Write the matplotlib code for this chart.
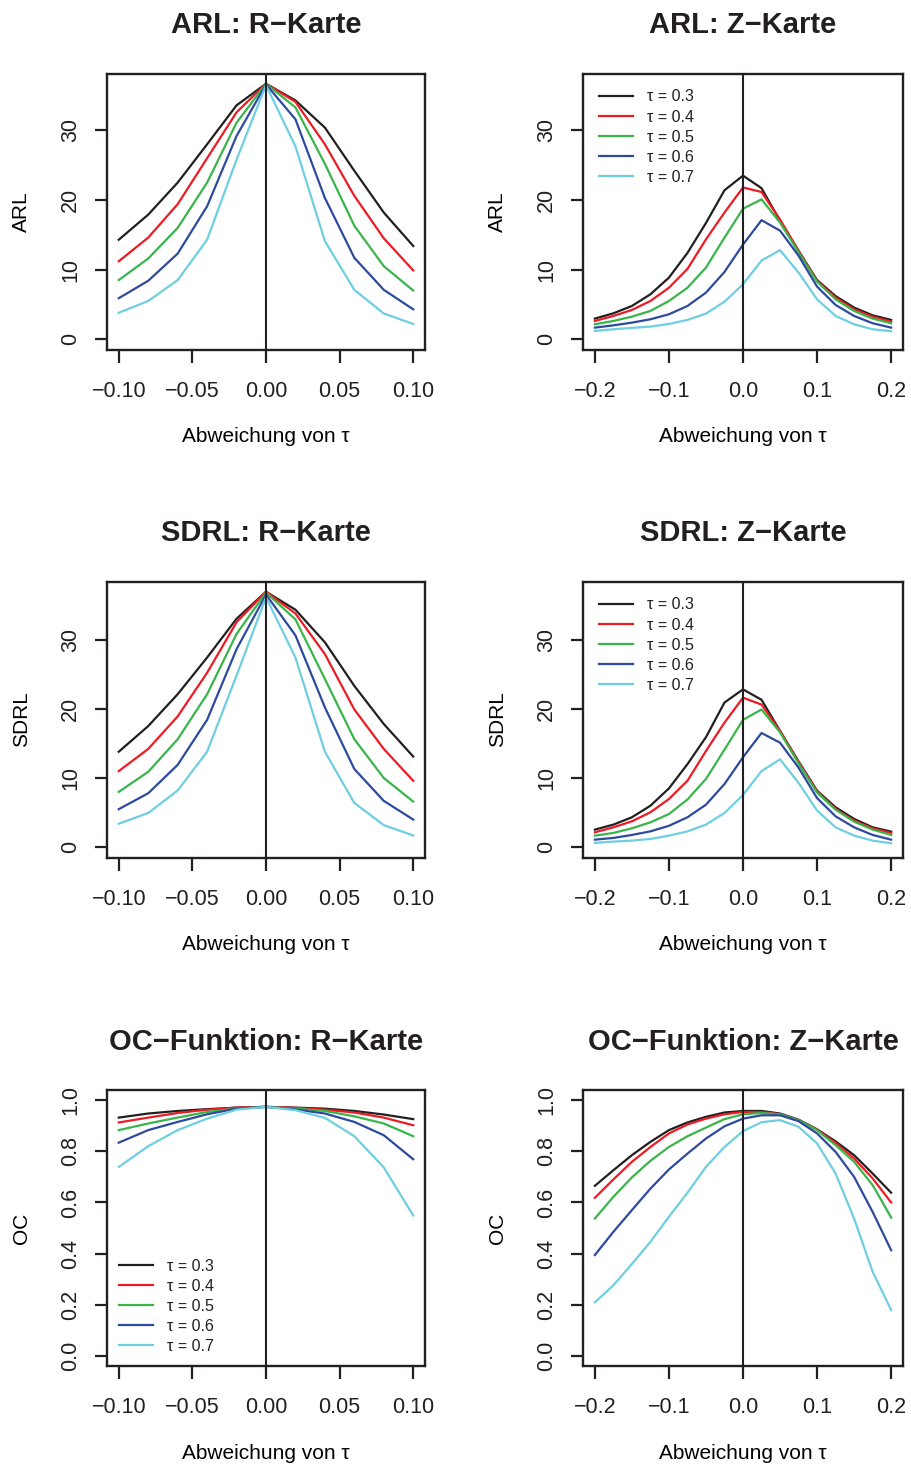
import matplotlib
matplotlib.use("Agg")
import matplotlib.pyplot as plt

plt.rcParams['font.family'] = ['Liberation Sans', 'DejaVu Sans']
plt.rcParams['text.color'] = '#231f20'

# Abweichung von tau
dev_r = [-0.10, -0.08, -0.06, -0.04, -0.02, 0.00, 0.02, 0.04, 0.06, 0.08, 0.10]
dev_z = [-0.200, -0.175, -0.150, -0.125, -0.100, -0.075, -0.050, -0.025, 0.000,
         0.025, 0.050, 0.075, 0.100, 0.125, 0.150, 0.175, 0.200]

taus = ["0.3", "0.4", "0.5", "0.6", "0.7"]
colors = ['#231f20', '#ed1c24', '#39b54a', '#2e4a9e', '#6dcfe0']

# ARL R-Karte
arl_r = [
    [14.3, 17.9, 22.5, 28.0, 33.6, 36.7, 34.3, 30.4, 24.2, 18.2, 13.4],
    [11.2, 14.6, 19.4, 26.0, 32.6, 36.7, 34.1, 28.0, 20.6, 14.5, 9.9],
    [8.5, 11.6, 16.0, 22.5, 31.1, 36.7, 33.3, 25.2, 16.3, 10.5, 7.0],
    [5.9, 8.4, 12.3, 19.1, 29.2, 36.6, 31.6, 20.3, 11.7, 7.1, 4.3],
    [3.8, 5.5, 8.5, 14.3, 25.8, 36.5, 27.7, 14.1, 7.1, 3.7, 2.2],
]
# ARL Z-Karte
arl_z = [
    [2.97, 3.73, 4.78, 6.46, 8.85, 12.4, 16.7, 21.4, 23.5, 21.7, 17.0, 12.7, 8.5, 6.2, 4.55, 3.44, 2.78],
    [2.63, 3.35, 4.21, 5.5, 7.4, 10.1, 14.35, 18.2, 21.8, 21.15, 17.2, 12.7, 8.37, 6.0, 4.3, 3.25, 2.54],
    [2.15, 2.63, 3.25, 4.07, 5.5, 7.4, 10.3, 14.6, 18.75, 20.1, 16.75, 12.5, 8.28, 5.74, 4.07, 2.97, 2.3],
    [1.67, 2.0, 2.39, 2.87, 3.59, 4.78, 6.7, 9.67, 13.6, 17.1, 15.6, 12.0, 7.56, 4.93, 3.35, 2.3, 1.67],
    [1.2, 1.44, 1.63, 1.82, 2.2, 2.78, 3.68, 5.4, 7.9, 11.3, 12.8, 9.57, 5.74, 3.35, 2.15, 1.44, 1.15],
]
# SDRL R-Karte
sdrl_r = [
    [13.8, 17.5, 22.1, 27.4, 33.0, 36.9, 34.3, 29.6, 23.3, 17.8, 13.1],
    [11.0, 14.2, 18.9, 25.2, 32.5, 36.9, 33.75, 27.9, 19.9, 14.2, 9.6],
    [8.0, 10.9, 15.6, 22.1, 30.8, 36.8, 32.9, 24.3, 15.6, 10.0, 6.6],
    [5.5, 7.8, 11.9, 18.4, 28.6, 36.5, 30.6, 20.2, 11.3, 6.7, 4.0],
    [3.4, 4.95, 8.2, 13.8, 24.8, 36.1, 27.4, 13.8, 6.4, 3.2, 1.7],
]
# SDRL Z-Karte
sdrl_z = [
    [2.55, 3.27, 4.33, 6.0, 8.5, 12.0, 15.9, 20.9, 22.8, 21.3, 16.8, 12.4, 8.17, 5.77, 4.09, 2.88, 2.26],
    [2.16, 2.88, 3.75, 5.05, 6.97, 9.6, 13.9, 18.0, 21.6, 20.6, 16.8, 12.3, 8.08, 5.53, 3.85, 2.74, 2.07],
    [1.68, 2.07, 2.74, 3.6, 4.8, 6.9, 9.86, 14.1, 18.4, 19.9, 16.6, 12.1, 7.9, 5.43, 3.7, 2.55, 1.78],
    [1.1, 1.35, 1.78, 2.3, 3.1, 4.33, 6.15, 9.13, 13.0, 16.5, 15.1, 11.5, 7.1, 4.47, 2.88, 1.78, 1.1],
    [0.63, 0.82, 0.96, 1.2, 1.68, 2.3, 3.27, 4.95, 7.55, 11.0, 12.7, 9.3, 5.3, 2.88, 1.68, 0.96, 0.58],
]
# OC R-Karte
oc_r = [
    [0.932, 0.948, 0.958, 0.965, 0.971, 0.974, 0.971, 0.967, 0.958, 0.944, 0.926],
    [0.913, 0.932, 0.950, 0.963, 0.971, 0.974, 0.970, 0.963, 0.952, 0.932, 0.902],
    [0.883, 0.909, 0.932, 0.954, 0.967, 0.974, 0.967, 0.958, 0.937, 0.909, 0.859],
    [0.834, 0.883, 0.915, 0.945, 0.967, 0.974, 0.964, 0.948, 0.915, 0.863, 0.769],
    [0.739, 0.820, 0.883, 0.928, 0.963, 0.974, 0.961, 0.931, 0.859, 0.737, 0.549],
]
# OC Z-Karte
oc_z = [
    [0.665, 0.726, 0.785, 0.837, 0.883, 0.913, 0.935, 0.952, 0.958, 0.958, 0.948, 0.924, 0.886, 0.839, 0.785, 0.713, 0.638],
    [0.618, 0.690, 0.759, 0.817, 0.870, 0.905, 0.928, 0.945, 0.954, 0.954, 0.945, 0.922, 0.885, 0.833, 0.772, 0.694, 0.600],
    [0.537, 0.622, 0.698, 0.763, 0.817, 0.859, 0.893, 0.926, 0.945, 0.950, 0.945, 0.922, 0.883, 0.824, 0.759, 0.668, 0.541],
    [0.394, 0.485, 0.570, 0.654, 0.729, 0.791, 0.850, 0.898, 0.928, 0.941, 0.941, 0.918, 0.870, 0.798, 0.700, 0.563, 0.413],
    [0.209, 0.276, 0.359, 0.446, 0.544, 0.638, 0.739, 0.817, 0.879, 0.914, 0.922, 0.896, 0.831, 0.713, 0.537, 0.329, 0.179],
]

xt_r = [-0.10, -0.05, 0.00, 0.05, 0.10]
xl_r = ["\u22120.10", "\u22120.05", "0.00", "0.05", "0.10"]
xt_z = [-0.2, -0.1, 0.0, 0.1, 0.2]
xl_z = ["\u22120.2", "\u22120.1", "0.0", "0.1", "0.2"]
yt_rl = [0, 10, 20, 30]
yt_oc = [0.0, 0.2, 0.4, 0.6, 0.8, 1.0]
yl_oc = ["0.0", "0.2", "0.4", "0.6", "0.8", "1.0"]

fig = plt.figure(figsize=(9.11, 14.64), dpi=100)

col_left = [107 / 911, 583 / 911]
col_w = [318 / 911, 320 / 911]
row_bottom = [1 - 349.5 / 1464, 1 - 857.5 / 1464, 1 - 1366 / 1464]
row_h = 276 / 1464


def panel(r, c, x, series, title, ylab, xt, xl, yt, yl, ylim, legend=None):
    ax = fig.add_axes([col_left[c], row_bottom[r], col_w[c], row_h])
    for s, col, t in zip(series, colors, taus):
        ax.plot(x, s, color=col, lw=1.6, label="\u03c4 = " + t)
    ax.axvline(0, color='#231f20', lw=1.5)
    span = x[-1] - x[0]
    ax.set_xlim(x[0] - 0.04 * span, x[-1] + 0.04 * span)
    ax.set_ylim(*ylim)
    ax.set_xticks(xt)
    ax.set_xticklabels(xl)
    ax.set_yticks(yt)
    ax.set_yticklabels(yl, rotation=90, va='center')
    ax.tick_params(axis='both', length=9, width=1.6, labelsize=15.5,
                   color='#231f20', labelcolor='#231f20')
    ax.tick_params(axis='x', pad=13.5)
    ax.tick_params(axis='y', pad=9.5)
    for sp in ax.spines.values():
        sp.set_linewidth(1.7)
        sp.set_color('#231f20')
    ax.set_title(title, fontsize=21, fontweight='bold', pad=29)
    ax.set_xlabel("Abweichung von \u03c4", fontsize=15, labelpad=18.5)
    ax.set_ylabel(ylab, fontsize=15, labelpad=21)
    if legend is not None:
        pad = 0.6 if legend == 'upper left' else 0.35
        ax.legend(loc=legend, frameon=False, fontsize=11.5, handlelength=2.1,
                  handletextpad=0.9, labelspacing=0.32, borderaxespad=pad)
    return ax


lim_arl = (-0.04 * 36.7, 1.04 * 36.7)
lim_sdrl = (-0.04 * 36.9, 1.04 * 36.9)
lim_oc = (-0.04, 1.04)

panel(0, 0, dev_r, arl_r, "ARL: R\u2212Karte", "ARL", xt_r, xl_r, yt_rl, [str(v) for v in yt_rl], lim_arl)
panel(0, 1, dev_z, arl_z, "ARL: Z\u2212Karte", "ARL", xt_z, xl_z, yt_rl, [str(v) for v in yt_rl], lim_arl, legend='upper left')
panel(1, 0, dev_r, sdrl_r, "SDRL: R\u2212Karte", "SDRL", xt_r, xl_r, yt_rl, [str(v) for v in yt_rl], lim_sdrl)
panel(1, 1, dev_z, sdrl_z, "SDRL: Z\u2212Karte", "SDRL", xt_z, xl_z, yt_rl, [str(v) for v in yt_rl], lim_sdrl, legend='upper left')
panel(2, 0, dev_r, oc_r, "OC\u2212Funktion: R\u2212Karte", "OC", xt_r, xl_r, yt_oc, yl_oc, lim_oc, legend='lower left')
panel(2, 1, dev_z, oc_z, "OC\u2212Funktion: Z\u2212Karte", "OC", xt_z, xl_z, yt_oc, yl_oc, lim_oc)

fig.savefig("out.png", dpi=100)
